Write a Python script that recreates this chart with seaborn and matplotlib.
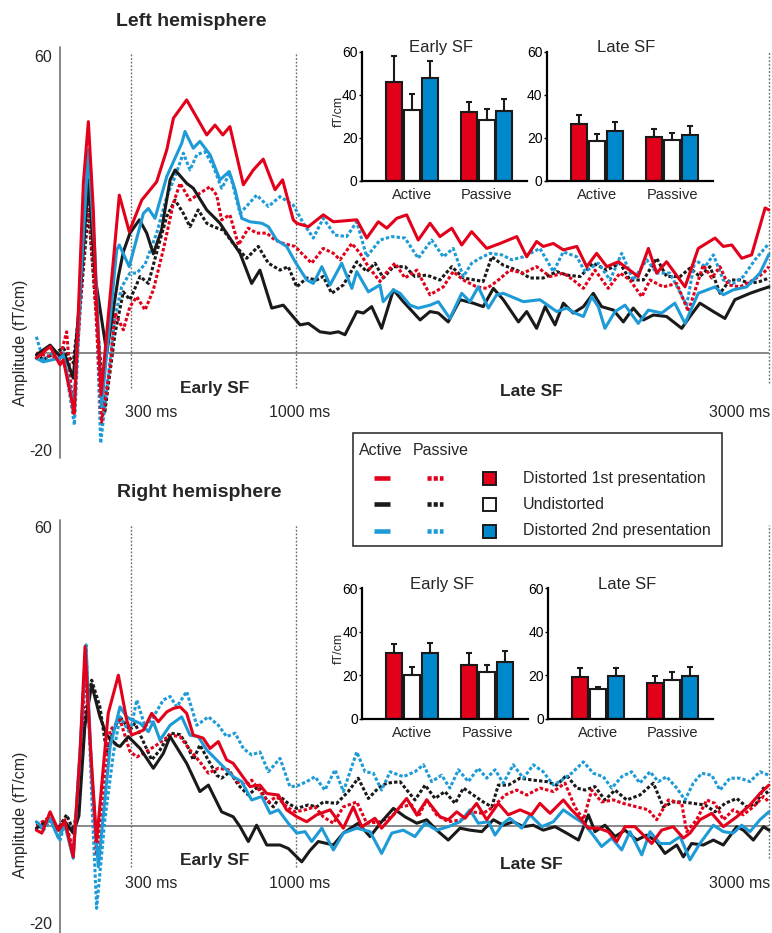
import numpy as np
import pandas as pd
import matplotlib
matplotlib.use("Agg")
import matplotlib.pyplot as plt
import seaborn as sns
from matplotlib.lines import Line2D
from matplotlib.patches import Rectangle
from matplotlib.container import BarContainer

# ---------------------------------------------------------------- data
# waveforms: (time in ms, amplitude in fT/cm)
L_red_act = [(-100,-1.0),(-42,1.3),(0,-2.4),(14,-1.4),(61,-12.2),(85,17.5),(99,34.5),(120,46.9),(141,29.0),(155,9.4),(174,-8.5),(251,32.0),(293,24.6),(346,31.0),(409,34.7),(452,41.2),(480,47.6),(536,51.3),(621,44.2),(656,46.2),(689,44.2),(719,45.9),(776,34.1),(818,37.1),(860,39.3),(910,33.1),(942,35.1),(987,27.0),(1002,26.3),(1051,25.6),(1114,28.0),(1157,26.6),(1256,27.0),(1298,23.3),(1347,26.6),(1383,25.3),(1425,27.3),(1467,28.0),(1516,22.9),(1566,26.3),(1608,23.6),(1658,25.3),(1700,21.9),(1742,24.6),(1806,21.2),(1862,22.2),(1933,23.6),(1975,19.5),(2017,22.6),(2045,21.6),(2088,22.2),(2130,20.9),(2187,21.6),(2229,17.5),(2271,20.2),(2314,17.5),(2363,18.5),(2447,15.5),(2490,21.2),(2525,16.2),(2567,18.5),(2645,13.4),(2701,21.2),(2772,23.3),(2807,21.6),(2843,21.9),(2885,19.2),(2927,19.9),(2984,29.4),(3000,29.0)]
L_blue_act = [(-100,-1.1),(-71,-1.8),(0,-1.0),(14,-0.5),(59,-11.0),(88,15.0),(120,41.2),(148,20.0),(176,-10.9),(240,20.9),(251,21.9),(293,17.5),(353,28.3),(374,29.3),(402,27.3),(452,35.8),(515,42.5),(529,44.9),(564,41.5),(592,42.9),(635,40.2),(677,35.1),(716,36.8),(741,33.1),(769,27.3),(804,26.6),(854,26.3),(882,25.6),(917,22.9),(959,21.6),(995,18.5),(1044,14.8),(1072,14.1),(1108,17.5),(1143,13.8),(1192,18.2),(1235,13.1),(1256,16.5),(1305,12.4),(1354,13.8),(1368,10.4),(1411,12.8),(1439,12.1),(1481,9.7),(1516,9.1),(1566,9.7),(1601,10.4),(1650,7.0),(1700,12.1),(1735,10.4),(1770,13.4),(1813,9.1),(1848,11.8),(1876,12.1),(1961,10.4),(2031,10.8),(2102,8.4),(2144,9.1),(2179,8.1),(2215,7.4),(2250,11.4),(2278,9.4),(2306,5.0),(2349,8.4),(2391,9.7),(2447,6.0),(2490,8.7),(2546,8.1),(2602,10.1),(2645,6.0),(2701,12.1),(2772,13.4),(2807,11.8),(2849,12.8),(2906,13.4),(2962,16.2),(3000,20.0)]
L_black_act = [(-100,-0.4),(-42,1.6),(0,-0.7),(21,-0.4),(56,-5.1),(90,15.0),(120,35.1),(150,15.0),(198,0.0),(247,15.5),(268,20.5),(296,24.3),(336,27.0),(367,24.3),(395,20.1),(430,25.0),(466,35.1),(487,37.1),(536,34.4),(564,33.4),(621,29.0),(677,26.3),(762,20.2),(811,14.1),(846,16.8),(896,9.1),(945,9.7),(1016,5.7),(1051,6.0),(1100,4.3),(1143,4.0),(1178,4.3),(1206,3.7),(1256,8.4),(1284,8.1),(1319,9.4),(1361,5.0),(1411,12.8),(1453,10.4),(1524,6.7),(1566,8.4),(1601,8.1),(1643,6.3),(1693,10.8),(1749,10.1),(1791,9.4),(1834,13.1),(1876,10.8),(1940,6.3),(1975,8.4),(2017,5.0),(2053,9.4),(2095,5.7),(2130,10.1),(2172,8.1),(2215,9.4),(2257,12.1),(2292,9.4),(2342,8.7),(2384,6.3),(2426,9.1),(2469,6.7),(2511,7.7),(2567,7.4),(2631,5.0),(2666,7.4),(2708,10.1),(2765,8.4),(2814,7.0),(2856,10.8),(2920,12.1),(2962,12.8),(3000,13.4)]
L_red_pas = [(-100,0.0),(-63,-0.5),(0,-1.0),(28,4.3),(56,-12.2),(90,12.0),(118,33.0),(150,10.0),(176,-14.0),(212,-2.8),(233,8.1),(268,4.7),(296,9.4),(325,11.4),(360,8.7),(395,12.8),(437,20.9),(480,30.4),(508,34.4),(550,31.0),(592,32.4),(635,33.7),(663,32.0),(684,27.0),(719,28.0),(755,21.9),(797,25.3),(832,24.3),(875,24.3),(910,22.9),(945,22.2),(995,21.6),(1023,20.2),(1065,18.2),(1114,21.2),(1157,20.2),(1185,18.9),(1235,22.2),(1270,20.2),(1305,17.5),(1354,14.5),(1389,16.8),(1418,18.2),(1460,15.2),(1510,16.8),(1566,11.8),(1622,13.4),(1664,16.5),(1707,14.8),(1763,13.4),(1806,13.1),(1848,14.5),(1904,16.8),(1961,16.2),(2017,17.5),(2074,15.5),(2130,16.2),(2172,14.8),(2215,13.1),(2264,16.8),(2320,13.1),(2370,16.2),(2412,14.8),(2462,11.4),(2497,14.8),(2553,13.4),(2610,14.1),(2659,8.4),(2722,17.8),(2758,15.2),(2793,17.5),(2828,13.8),(2878,13.4),(2934,14.8),(2977,16.2),(3000,17.5)]
L_black_pas = [(-100,0.0),(-71,-1.4),(14,1.0),(56,-2.0),(90,12.0),(120,29.0),(150,10.0),(190,-11.9),(233,4.0),(268,12.4),(296,10.8),(339,15.5),(374,14.1),(416,21.6),(452,27.7),(487,31.0),(522,28.3),(550,25.6),(585,29.0),(621,26.3),(649,25.6),(691,24.9),(733,22.2),(790,19.2),(839,21.6),(882,18.2),(931,16.8),(966,17.5),(1002,13.4),(1044,15.2),(1086,14.8),(1114,15.5),(1150,12.1),(1199,13.8),(1256,18.5),(1298,16.5),(1333,18.2),(1368,15.2),(1411,17.5),(1460,17.5),(1502,15.5),(1552,15.8),(1608,14.8),(1658,17.5),(1707,15.2),(1756,14.8),(1791,14.5),(1827,19.5),(1876,17.8),(1933,16.8),(1989,15.2),(2045,15.2),(2102,16.5),(2144,15.8),(2201,15.5),(2257,18.2),(2314,16.8),(2370,18.2),(2412,14.8),(2469,14.8),(2525,19.2),(2567,15.5),(2624,15.5),(2666,17.2),(2708,15.5),(2751,17.5),(2793,12.1),(2835,14.8),(2878,14.8),(2920,14.1),(2962,14.5),(3000,15.2)]
L_blue_pas = [(-100,3.3),(-71,-1.4),(-28,0.0),(14,0.0),(61,-14.6),(90,15.0),(120,41.0),(150,15.0),(172,-18.3),(233,7.4),(261,13.4),(296,16.2),(325,16.2),(360,18.0),(409,24.3),(452,31.7),(487,35.8),(522,40.5),(550,37.1),(579,40.2),(614,40.8),(649,37.8),(684,33.4),(719,36.4),(762,28.3),(832,32.0),(882,29.7),(931,31.7),(987,30.0),(1030,26.3),(1072,23.3),(1114,27.3),(1164,23.9),(1213,23.6),(1256,26.6),(1298,19.5),(1354,22.9),(1404,23.6),(1460,23.3),(1516,19.2),(1573,22.9),(1622,19.5),(1664,21.2),(1707,15.5),(1742,18.2),(1777,19.2),(1820,20.2),(1869,19.9),(1912,18.9),(1961,19.5),(2031,21.2),(2088,16.5),(2130,20.5),(2187,19.5),(2222,16.5),(2278,18.2),(2328,14.8),(2377,20.2),(2426,14.8),(2483,18.9),(2525,16.2),(2581,16.2),(2652,9.7),(2687,18.9),(2730,17.5),(2765,19.9),(2807,14.8),(2849,14.1),(2892,15.5),(2941,18.9),(3000,22.2)]

R_red_act = [(-100,-0.9),(-77,-1.5),(-42,2.8),(-7,-0.9),(21,0.8),(56,-6.3),(85,15.0),(106,36.2),(130,15.0),(155,-3.2),(204,22.7),(247,30.4),(282,21.4),(303,18.3),(353,19.3),(388,22.7),(416,21.0),(452,23.0),(480,23.7),(508,24.0),(536,22.7),(564,18.3),(606,17.7),(635,15.6),(670,17.0),(705,13.3),(733,12.6),(769,10.2),(804,7.9),(846,8.2),(875,6.5),(924,6.2),(959,3.2),(1002,1.8),(1044,0.8),(1086,2.2),(1143,3.2),(1199,-0.5),(1241,3.8),(1277,-0.2),(1333,1.5),(1361,-0.5),(1404,1.8),(1467,5.5),(1510,2.2),(1552,5.2),(1608,1.8),(1643,1.2),(1679,2.8),(1714,1.5),(1763,4.5),(1806,1.2),(1855,4.5),(1897,2.2),(1947,3.2),(1996,2.2),(2031,4.5),(2074,2.5),(2130,5.2),(2165,3.2),(2201,1.5),(2236,-0.5),(2278,-0.5),(2320,-1.2),(2356,-3.2),(2391,-0.2),(2433,-0.2),(2469,-1.9),(2504,-3.6),(2546,-0.9),(2595,-0.2),(2638,-2.5),(2666,-1.5),(2708,1.2),(2758,2.5),(2807,-0.2),(2864,1.8),(2920,4.2),(2962,6.5),(3000,8.2)]
R_blue_act = [(-100,0.8),(-71,-0.5),(-42,1.5),(-7,-2.5),(21,0.1),(56,-6.6),(85,15.0),(110,36.5),(135,10.0),(162,-8.3),(212,16.0),(254,24.0),(282,22.0),(303,21.4),(339,20.7),(374,19.0),(395,21.0),(423,17.3),(466,20.3),(515,22.0),(550,18.3),(585,18.0),(621,15.3),(677,12.6),(733,9.9),(769,8.9),(811,5.2),(854,5.9),(889,2.5),(924,3.2),(966,0.5),(1002,-1.5),(1037,-1.2),(1065,-3.2),(1108,-0.5),(1157,-4.9),(1199,-1.5),(1256,-0.5),(1312,-1.2),(1361,-5.6),(1404,-1.5),(1453,-0.9),(1502,-2.2),(1545,0.5),(1594,-0.9),(1643,-0.2),(1693,0.8),(1735,3.2),(1770,0.5),(1813,0.8),(1841,-1.9),(1876,0.5),(1904,1.5),(1954,-0.5),(1989,2.2),(2039,-0.2),(2088,0.8),(2130,3.2),(2172,1.8),(2215,0.5),(2250,-1.5),(2292,-4.2),(2335,-2.5),(2377,-4.9),(2412,-1.2),(2462,-5.9),(2497,-1.2),(2539,-3.6),(2581,-3.6),(2624,-2.2),(2666,-6.9),(2708,-3.6),(2765,0.1),(2807,-1.2),(2849,-1.5),(2885,0.1),(2920,-1.2),(2962,1.2),(3000,2.8)]
R_black_act = [(-100,-0.5),(-42,1.2),(-7,-0.9),(21,0.8),(56,-1.5),(80,2.0),(105,20.0),(134,28.5),(169,22.0),(198,18.3),(240,16.3),(254,16.0),(289,18.0),(339,15.6),(395,11.6),(437,14.6),(466,18.0),(536,12.6),(592,6.9),(628,8.2),(684,2.8),(733,1.8),(762,-0.2),(797,-3.2),(832,0.1),(875,-3.9),(931,-3.9),(966,-4.6),(1023,-7.3),(1058,-5.0),(1093,-3.2),(1157,-3.9),(1199,-1.5),(1262,0.5),(1312,-2.2),(1361,0.8),(1411,3.5),(1460,1.8),(1510,0.5),(1552,1.2),(1594,-0.9),(1643,-2.9),(1693,-0.5),(1735,-0.9),(1785,-1.2),(1834,1.2),(1876,0.1),(1918,0.8),(1961,-0.2),(2003,0.1),(2045,-0.9),(2095,-0.2),(2144,-1.5),(2194,-2.9),(2236,2.2),(2264,-1.2),(2306,0.1),(2349,-2.2),(2391,-0.9),(2441,-2.9),(2483,-1.9),(2525,-3.2),(2560,-5.6),(2610,-3.9),(2638,-6.3),(2673,-3.6),(2722,-3.9),(2765,-2.9),(2807,-3.9),(2864,-0.2),(2892,-0.9),(2934,-2.9),(2977,-0.2),(3000,-0.9)]
R_red_pas = [(-100,0.0),(-42,1.8),(-7,-0.5),(21,1.2),(56,-5.0),(85,12.0),(110,32.0),(135,10.0),(155,-6.0),(212,19.3),(254,21.4),(296,15.0),(325,13.9),(353,14.6),(409,16.3),(466,18.3),(508,18.0),(550,15.3),(592,12.9),(628,10.6),(670,11.6),(712,11.3),(748,8.9),(790,8.2),(811,9.2),(854,6.5),(882,4.8),(917,5.9),(959,3.8),(995,2.8),(1037,3.2),(1079,3.8),(1114,1.8),(1157,0.5),(1199,3.8),(1256,4.8),(1298,0.5),(1354,0.8),(1404,1.8),(1439,3.8),(1488,4.2),(1516,1.8),(1552,5.2),(1594,2.2),(1643,0.8),(1700,1.2),(1742,2.8),(1791,2.5),(1834,3.8),(1883,6.2),(1933,7.2),(1975,6.2),(2031,7.6),(2088,6.9),(2137,8.6),(2179,3.8),(2215,1.2),(2250,7.2),(2292,4.8),(2342,5.2),(2384,4.5),(2441,3.8),(2490,3.2),(2525,1.2),(2575,5.2),(2631,4.5),(2652,-1.2),(2694,1.2),(2737,5.2),(2772,4.5),(2807,1.2),(2849,3.2),(2892,2.2),(2934,3.8),(2977,5.9),(3000,4.8)]
R_black_pas = [(-100,0.3),(-42,1.2),(-7,-0.5),(28,2.2),(56,-0.9),(80,5.0),(105,22.0),(134,29.4),(169,24.0),(198,14.6),(226,19.3),(254,22.0),(296,19.3),(317,20.7),(388,13.3),(423,15.3),(466,18.7),(508,18.4),(536,16.5),(564,13.3),(592,16.3),(663,10.2),(684,9.6),(719,10.9),(755,8.2),(797,6.2),(839,7.9),(875,5.2),(903,3.8),(931,5.9),(966,4.5),(1002,3.5),(1051,4.2),(1086,3.8),(1114,4.8),(1171,4.5),(1220,6.9),(1262,9.6),(1305,5.5),(1347,7.6),(1383,8.6),(1439,8.9),(1502,5.2),(1545,8.2),(1587,5.5),(1629,6.9),(1672,4.5),(1707,7.6),(1749,6.2),(1791,4.8),(1827,3.8),(1855,8.2),(1897,8.2),(1947,9.6),(2003,9.2),(2060,8.9),(2102,8.2),(2144,10.2),(2187,7.6),(2222,7.2),(2264,7.9),(2306,5.2),(2349,7.2),(2398,5.2),(2454,6.2),(2511,8.6),(2553,3.8),(2595,4.8),(2638,4.8),(2680,4.5),(2730,4.2),(2772,2.8),(2814,4.5),(2864,5.5),(2906,3.8),(2948,4.5),(2977,7.6),(3000,6.2)]
R_blue_pas = [(-100,0.8),(-71,-1.0),(-42,1.0),(0,-2.9),(21,0.5),(56,-6.3),(85,15.0),(110,36.5),(135,5.0),(155,-16.7),(190,1.2),(226,14.6),(254,22.0),(296,18.7),(325,25.4),(360,20.0),(388,21.4),(437,25.4),(466,26.1),(494,24.0),(536,27.1),(579,20.3),(628,22.0),(670,20.3),(705,18.0),(741,18.7),(776,15.6),(811,14.3),(846,14.9),(882,10.9),(931,13.6),(973,7.9),(1002,8.0),(1044,8.9),(1079,9.9),(1121,7.2),(1164,11.3),(1199,6.9),(1256,14.9),(1291,10.9),(1326,10.6),(1361,7.2),(1397,10.9),(1453,9.9),(1502,10.9),(1538,12.3),(1573,8.9),(1615,10.2),(1650,7.6),(1686,11.3),(1728,8.9),(1770,11.6),(1806,9.6),(1841,11.3),(1876,8.6),(1918,12.3),(1961,9.6),(2003,12.3),(2045,10.9),(2088,8.2),(2123,9.2),(2165,10.6),(2215,12.9),(2257,10.6),(2299,9.9),(2335,7.6),(2377,9.9),(2419,10.9),(2454,8.6),(2497,10.9),(2532,8.9),(2567,9.9),(2610,7.6),(2645,5.2),(2680,8.6),(2716,10.6),(2758,10.2),(2793,7.2),(2835,9.6),(2878,9.6),(2920,8.9),(2962,10.9),(3000,10.2)]

# bar insets: order = conditions (Distorted 1st, Undistorted, Distorted 2nd)
conds = ["Distorted 1st presentation", "Undistorted", "Distorted 2nd presentation"]
tasks = ["Active", "Passive"]
L_early_active = [46.1, 32.9, 47.6]; L_early_active_err = [12.0, 7.4, 8.0]
L_early_passive = [32.1, 28.3, 32.6]; L_early_passive_err = [4.7, 4.9, 5.4]
L_late_active = [26.4, 18.5, 23.2]; L_late_active_err = [4.4, 3.1, 4.0]
L_late_passive = [20.6, 18.9, 21.3]; L_late_passive_err = [3.4, 3.5, 4.4]
R_early_active = [30.2, 20.2, 30.4]; R_early_active_err = [4.3, 3.4, 4.3]
R_early_passive = [24.7, 21.6, 26.2]; R_early_passive_err = [5.7, 3.2, 4.8]
R_late_active = [19.3, 13.5, 19.8]; R_late_active_err = [3.9, 1.2, 3.7]
R_late_passive = [16.6, 17.8, 19.8]; R_late_passive_err = [3.0, 3.7, 4.1]

marker_times = [300, 1000, 3000]
marker_labels = ["300 ms", "1000 ms", "3000 ms"]

# ---------------------------------------------------------------- style
sns.set_theme(style="white")
plt.rcParams["font.family"] = ["Liberation Sans", "DejaVu Sans"]

LINE_COL = {conds[0]: "#E2001A", conds[1]: "#1A1A1A", conds[2]: "#1E9BD7"}
BAR_COL = {conds[0]: "#E2001A", conds[1]: "#FFFFFF", conds[2]: "#0088CC"}
DOT = (1.1, 0.7)

W, H = 772, 933
fig = plt.figure(figsize=(W / 100, H / 100), dpi=100)


def fx(px):
    return px / W


def fy(py):
    return 1 - py / H


def axes_px(l, t, r, b):
    return fig.add_axes([fx(l), fy(b), (r - l) / W, (b - t) / H])


def series_df(hemi, items):
    rows = []
    for (cond, task), pts in items.items():
        for t, a in pts:
            rows.append((hemi, task, cond, t, a))
    return pd.DataFrame(rows, columns=["hemi", "task", "cond", "t", "a"])


wave = pd.concat([
    series_df("Left", {(conds[0], "Active"): L_red_act, (conds[1], "Active"): L_black_act,
                       (conds[2], "Active"): L_blue_act, (conds[0], "Passive"): L_red_pas,
                       (conds[1], "Passive"): L_black_pas, (conds[2], "Passive"): L_blue_pas}),
    series_df("Right", {(conds[0], "Active"): R_red_act, (conds[1], "Active"): R_black_act,
                        (conds[2], "Active"): R_blue_act, (conds[0], "Passive"): R_red_pas,
                        (conds[1], "Passive"): R_black_pas, (conds[2], "Passive"): R_blue_pas}),
])

PXMS = 0.2363
X0 = 60


def wave_panel(hemi, y60, y0, axis_top, axis_bot, dot_ranges, title, title_xy,
               lbl_y, early_y, late_y, ms_y):
    scale = (y0 - y60) / 60.0
    ym20 = y0 + 20 * scale
    ax = axes_px(X0 - 100 * PXMS, y60, X0 + 3000 * PXMS, ym20)
    ax.set_xlim(-100, 3000)
    ax.set_ylim(-20, 60)
    ax.axis("off")
    ax.plot([0, 0], [axis_bot, axis_top], color="#7F7F7F", lw=1.3, clip_on=False, zorder=1)
    ax.plot([-100, 3000], [0, 0], color="#7F7F7F", lw=1.3, zorder=1)
    for tm, (lo, hi) in zip(marker_times, dot_ranges):
        ax.plot([tm, tm], [lo, hi], color="#6E6E6E", lw=1.0, ls=(0, (1.3, 1.3)),
                clip_on=False, zorder=1)
    n0 = len(ax.lines)
    sub = wave[wave.hemi == hemi]
    order = [conds[1], conds[2], conds[0]]
    for task, dash in [("Passive", DOT), ("Active", "")]:
        d = sub[sub.task == task]
        sns.lineplot(data=d, x="t", y="a", hue="cond", hue_order=order, palette=LINE_COL,
                     style="task", dashes={task: dash}, estimator=None, sort=True,
                     linewidth=2.2, legend=False, ax=ax)
    for ln in ax.lines[n0:]:
        ln.set_clip_on(False)
        ln.set_dash_capstyle("butt")
        ln.set_solid_joinstyle("round")
        ln.set_dash_joinstyle("round")
    ax.text(-34, 60, "60", ha="right", va="center", fontsize=11.5)
    ax.text(-34, -20, "-20", ha="right", va="center", fontsize=11.5)
    fig.text(fx(title_xy[0]), fy(title_xy[1]), title, ha="center", va="center",
             fontsize=14, fontweight="bold")
    fig.text(fx(21), fy(lbl_y), "Amplitude (fT/cm)", rotation=90, ha="center",
             va="center", fontsize=11.5)
    fig.text(fx(215), fy(early_y), "Early SF", ha="center", va="center",
             fontsize=12.5, fontweight="bold")
    fig.text(fx(531), fy(late_y), "Late SF", ha="center", va="center",
             fontsize=12.5, fontweight="bold")
    fig.text(fx(151), fy(ms_y), marker_labels[0], ha="center", va="center", fontsize=11.5)
    fig.text(fx(300), fy(ms_y), marker_labels[1], ha="center", va="center", fontsize=11.5)
    fig.text(fx(770), fy(ms_y), marker_labels[2], ha="right", va="center", fontsize=11.5)
    return ax


wave_panel("Left", 57, 353, 62, -21.3, [(-7, 61), (-7, 61), (-6, 61)],
           "Left hemisphere", (191.5, 21), 343, 389, 391.5, 412.3)
wave_panel("Right", 528.7, 825.7, 61.8, -22, [(-8.3, 60.8), (-8.3, 60.8), (-6.5, 60.8)],
           "Right hemisphere", (199, 492.7), 815, 860, 864.3, 884)


def inset(l, r, t, b, act, act_err, pas, pas_err, title, ylabel):
    ax = axes_px(l, t, r, b)
    ax.set_facecolor("none")
    df = pd.DataFrame({"task": [tasks[0]] * 3 + [tasks[1]] * 3,
                       "cond": conds * 2, "val": act + pas})
    sns.barplot(data=df, x="task", y="val", hue="cond", hue_order=conds, order=tasks,
                palette=BAR_COL, saturation=1, width=0.72, gap=0.11, edgecolor="#1A1A1A",
                linewidth=1.5, errorbar=None, legend=False, ax=ax)
    errs = [act_err, pas_err]
    bar_conts = [c for c in ax.containers if isinstance(c, BarContainer)]
    for i, cont in enumerate(bar_conts):
        for j, bar in enumerate(cont.patches):
            xc = bar.get_x() + bar.get_width() / 2
            h = bar.get_height()
            ax.errorbar([xc], [h], yerr=[[0], [errs[j][i]]], fmt="none", ecolor="#1A1A1A",
                        elinewidth=1.5, capsize=2.2, capthick=1.5, zorder=1)
    ax.set_xlim(-0.668, 1.541)
    ax.set_ylim(0, 60)
    ax.set_yticks([0, 20, 40, 60])
    ax.set_xlabel("")
    ax.set_ylabel("")
    for s in ["top", "right"]:
        ax.spines[s].set_visible(False)
    for s in ["left", "bottom"]:
        ax.spines[s].set_color("black")
        ax.spines[s].set_linewidth(1.6)
    ax.tick_params(axis="y", direction="out", length=2.5, width=1, pad=0.5,
                   labelsize=10, left=True, colors="black")
    ax.tick_params(axis="x", length=0, pad=5, labelsize=10.5)
    ax.text(0.48, 1.03, title, transform=ax.transAxes, ha="center", va="center", fontsize=12)
    if ylabel:
        ax.text(-0.14, 0.536, ylabel, transform=ax.transAxes, rotation=90,
                ha="center", va="center", fontsize=9)
    return ax


inset(361.7, 527, 51.7, 181, L_early_active, L_early_active_err,
      L_early_passive, L_early_passive_err, "Early SF", "fT/cm")
inset(546.7, 712.7, 51.7, 181, L_late_active, L_late_active_err,
      L_late_passive, L_late_passive_err, "Late SF", None)
inset(362.3, 528, 588.3, 718.7, R_early_active, R_early_active_err,
      R_early_passive, R_early_passive_err, "Early SF", "fT/cm")
inset(548.3, 712.7, 588.3, 718.7, R_late_active, R_late_active_err,
      R_late_passive, R_late_passive_err, "Late SF", None)

# ---------------------------------------------------------------- legend
fig.add_artist(Rectangle((fx(352.7), fy(545.7)), (721.7 - 352.7) / W, (545.7 - 433.3) / H,
                         transform=fig.transFigure, fill=False, edgecolor="#333333", lw=1.2))
fig.text(fx(359), fy(450), "Active", ha="left", va="center", fontsize=11.5)
fig.text(fx(412.7), fy(450), "Passive", ha="left", va="center", fontsize=11.5)
for cond, yy in zip(conds, [478.3, 504.3, 531.0]):
    fig.add_artist(Line2D([fx(374.3), fx(390)], [fy(yy)] * 2, transform=fig.transFigure,
                          color=LINE_COL[cond], lw=3.3, solid_capstyle="butt"))
    fig.add_artist(Line2D([fx(426.7), fx(442.7)], [fy(yy)] * 2, transform=fig.transFigure,
                          color=LINE_COL[cond], lw=3.3, ls=(0, (0.9, 0.45)),
                          dash_capstyle="butt"))
    fig.add_artist(Rectangle((fx(483.3), fy(yy + 6.5)), 13 / W, 13 / H,
                             transform=fig.transFigure, facecolor=BAR_COL[cond],
                             edgecolor="#1A1A1A", lw=1.4))
    fig.text(fx(522.7), fy(yy), cond, ha="left", va="center", fontsize=11.5)

fig.savefig("out.png", dpi=100)
